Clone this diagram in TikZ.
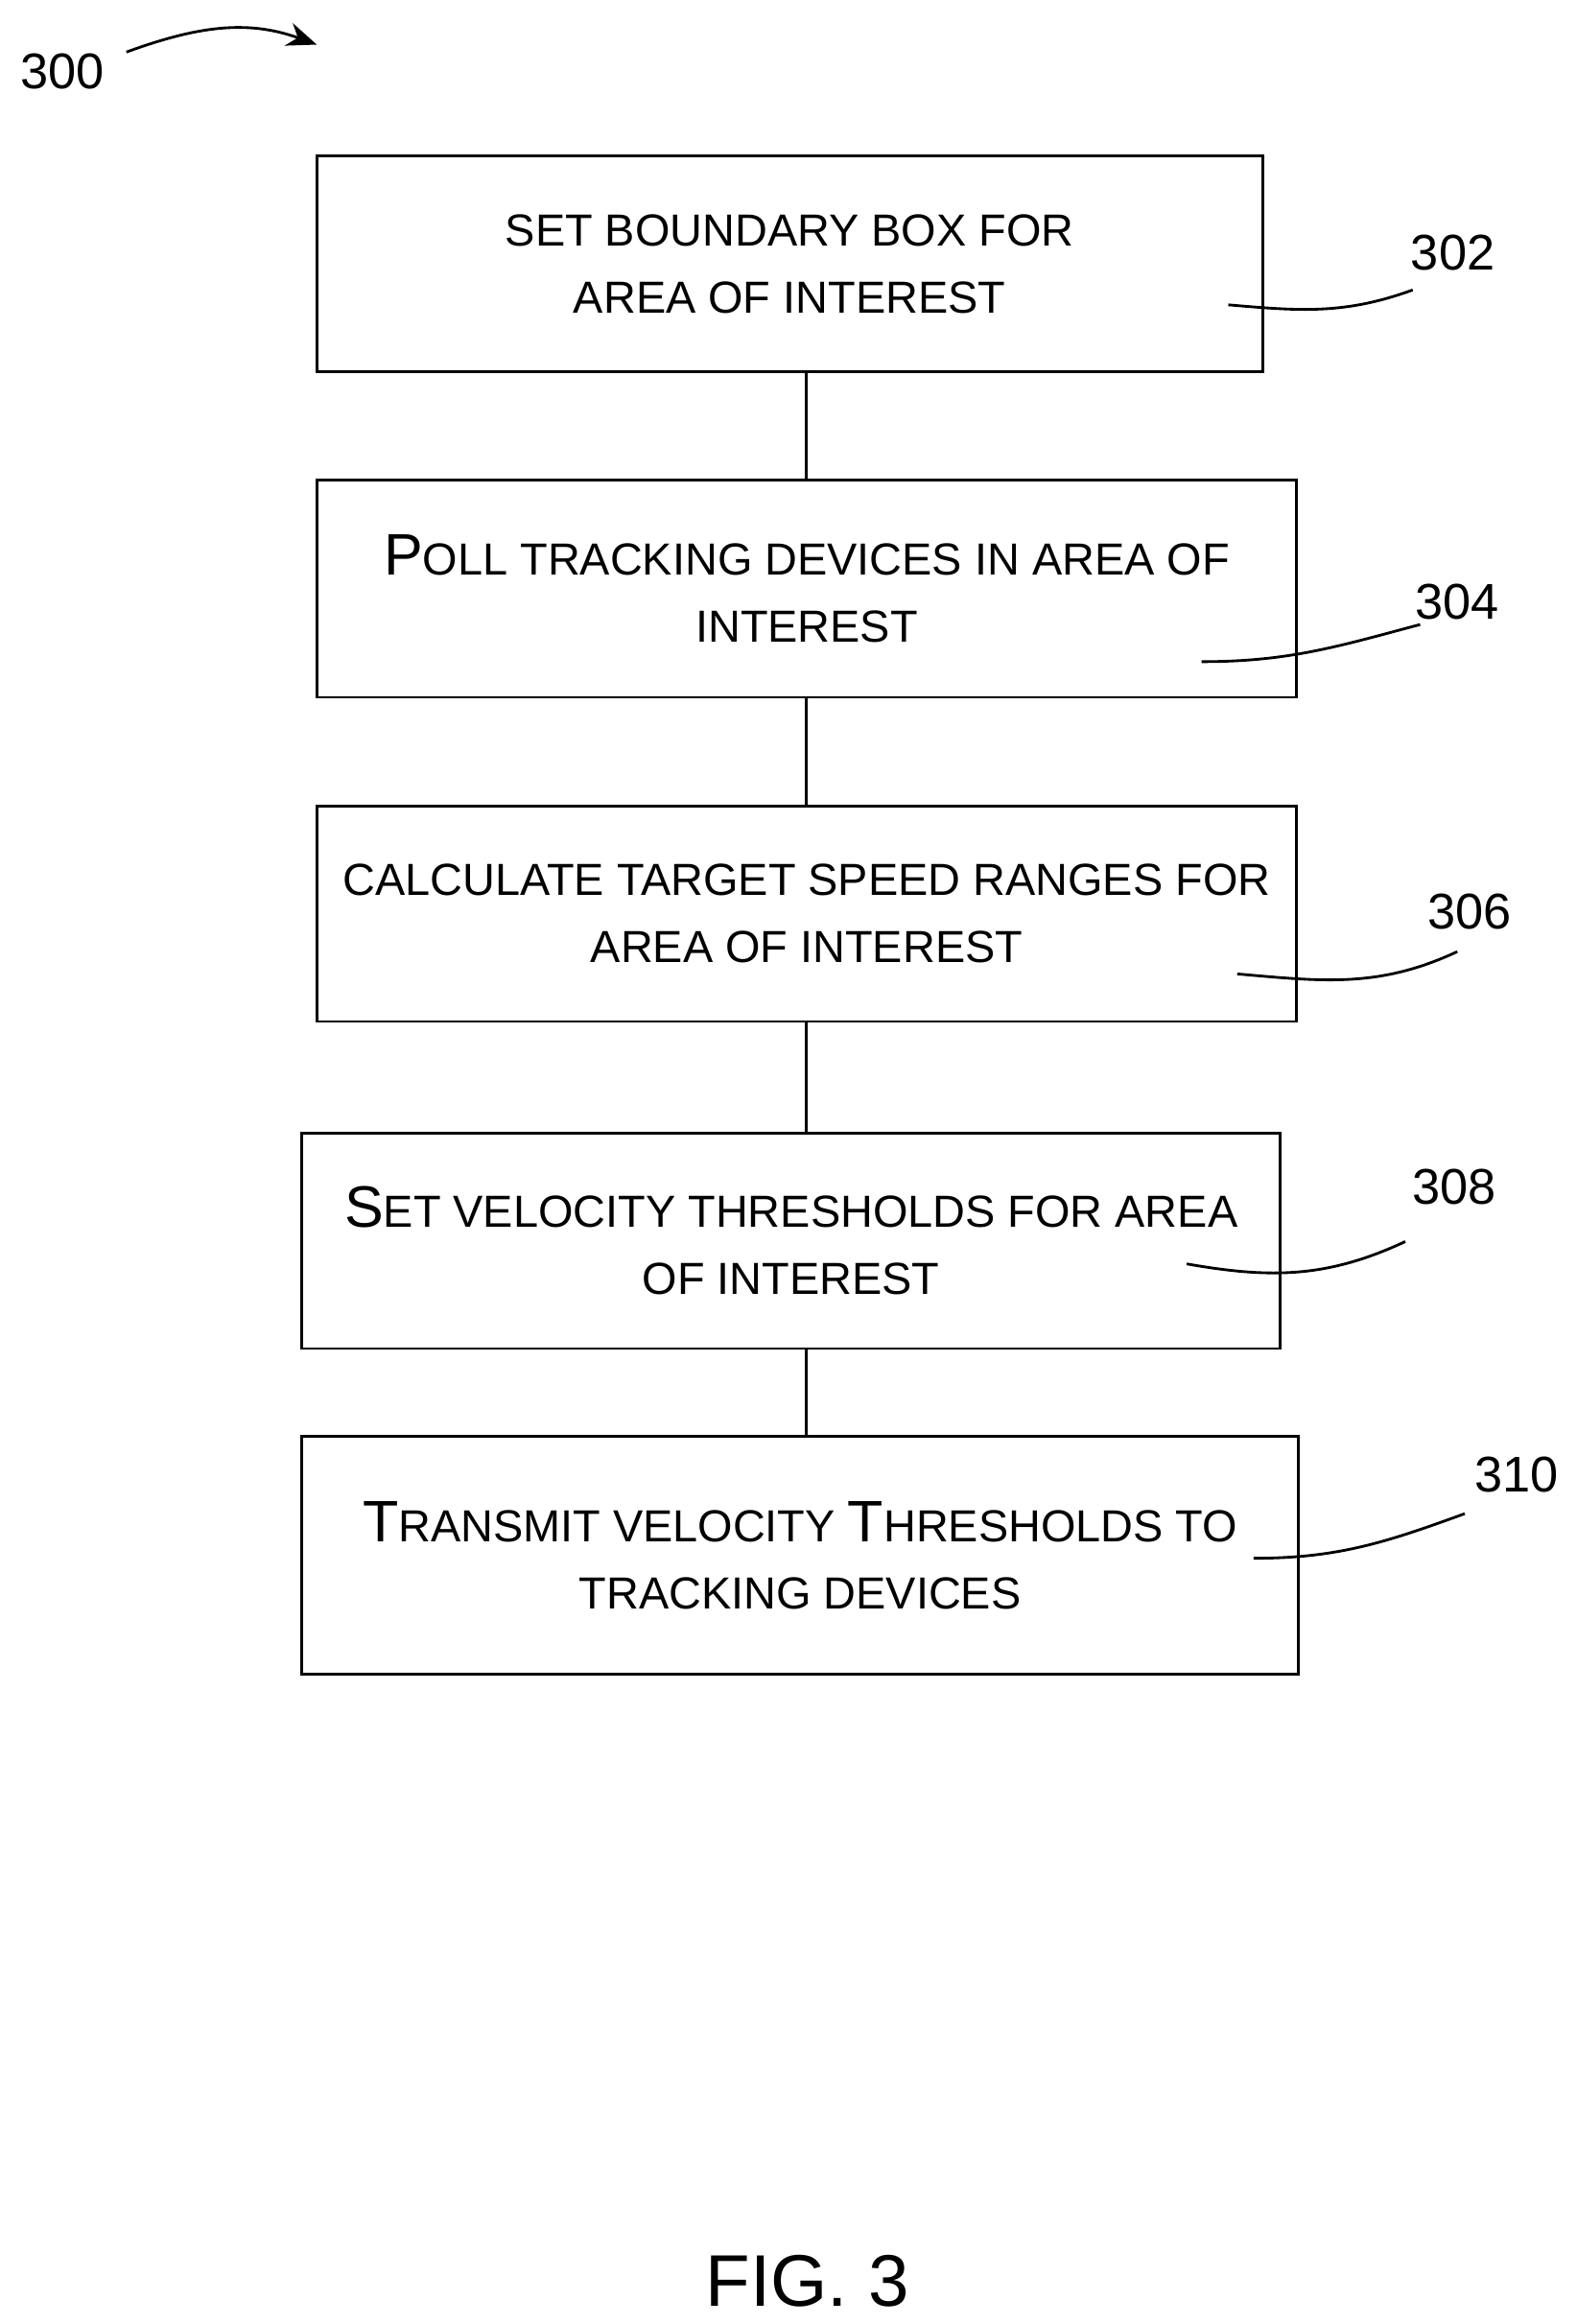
\documentclass[tikz,border=0pt]{standalone}
\usepackage{fontspec}
\setmainfont{Liberation Sans}
\usetikzlibrary{arrows.meta}
\newcommand{\Lg}[1]{{\fontsize{28}{32}\selectfont #1}}
\tikzset{
  stepbox/.style={draw=black,line width=1.3pt,align=center,inner sep=0pt,
    font=\fontsize{21.5}{32}\selectfont},
  ref/.style={font=\fontsize{24}{28}\selectfont},
  lead/.style={line width=1.3pt}
}
\begin{document}
\begin{tikzpicture}
            \useasboundingbox (0,0) rectangle (26.5,-39.075);
            \coordinate (spine) at (13.55,0);

            \node[stepbox,minimum width=15.9cm,minimum height=3.625cm] (b1) at (13.275,-4.4375) {SET BOUNDARY BOX FOR\\AREA OF INTEREST};
            \node[stepbox,minimum width=16.475cm,minimum height=3.65cm] (b2) at (13.5625,-9.9) {\Lg{P}OLL TRACKING DEVICES IN AREA OF\\INTEREST};
            \node[stepbox,minimum width=16.475cm,minimum height=3.625cm] (b3) at (13.5625,-15.3625) {CALCULATE TARGET SPEED RANGES FOR\\AREA OF INTEREST};
            \node[stepbox,minimum width=16.45cm,minimum height=3.625cm] (b4) at (13.3,-20.8625) {\Lg{S}ET VELOCITY THRESHOLDS FOR AREA\\OF INTEREST};
            \node[stepbox,minimum width=16.75cm,minimum height=4cm] (b5) at (13.45,-26.15) {\Lg{T}RANSMIT VELOCITY \Lg{T}HRESHOLDS TO\\TRACKING DEVICES};

            \draw[lead] (b1.south -| spine) -- (b2.north -| spine);
            \draw[lead] (b2.south -| spine) -- (b3.north -| spine);
            \draw[lead] (b3.south -| spine) -- (b4.north -| spine);
            \draw[lead] (b4.south -| spine) -- (b5.north -| spine);

            % reference numerals
            \node[ref] (n300) at (1.05,-1.2) {300};
            \node[ref] (n302) at (24.425,-4.25) {302};
            \node[ref] (n304) at (24.5,-10.125) {304};
            \node[ref] (n306) at (24.7,-15.325) {306};
            \node[ref] (n308) at (24.45,-19.95) {308};
            \node[ref] (n310) at (25.5,-24.8) {310};

            \coordinate (a300) at (2.125,-0.875);
            \coordinate (e300) at (5.325,-0.75);
            \coordinate (s302) at (20.65,-5.125);
            \coordinate (e302) at (23.75,-4.875);
            \coordinate (s304) at (20.2,-11.125);
            \coordinate (e304) at (23.875,-10.5);
            \coordinate (s306) at (20.8,-16.375);
            \coordinate (e306) at (24.5,-16.0);
            \coordinate (s308) at (19.95,-21.25);
            \coordinate (e308) at (23.625,-20.875);
            \coordinate (s310) at (21.075,-26.2);
            \coordinate (e310) at (24.625,-25.45);

            \draw[lead,-{Stealth[length=5mm,width=4mm]}] (a300) to[out=20,in=160] (e300);
            \draw[lead] (s302) to[out=-5,in=200] (e302);
            \draw[lead] (s304) to[out=0,in=195] (e304);
            \draw[lead] (s306) to[out=-5,in=205] (e306);
            \draw[lead] (s308) to[out=-10,in=205] (e308);
            \draw[lead] (s310) to[out=0,in=200] (e310);

            \node[font=\fontsize{35}{40}\selectfont] (fig) at (13.575,-38.35) {FIG. 3};
        \end{tikzpicture}
\end{document}
